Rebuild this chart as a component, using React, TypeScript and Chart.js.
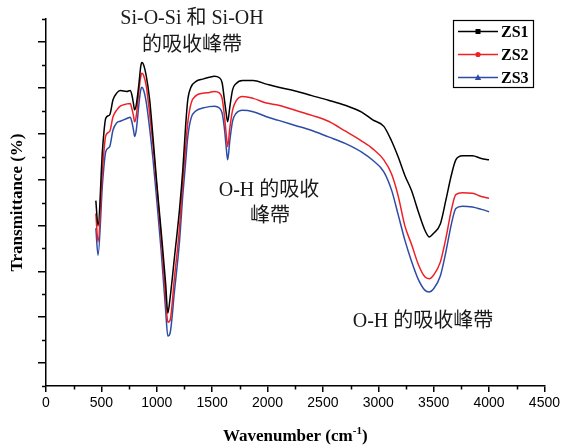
import { useEffect, useRef } from 'react';
import { Chart, registerables } from 'chart.js';

Chart.register(...registerables);

const wavenumbers = [
  450, 470, 510, 540, 575, 605, 640, 670, 730, 760, 775, 790, 800, 815, 840, 855, 865, 880, 905, 935,
  965, 1000, 1040, 1080, 1100, 1120, 1160, 1205, 1235, 1260, 1280, 1310, 1355, 1415, 1475, 1520, 1565,
  1590, 1610, 1625, 1640, 1660, 1685, 1715, 1775, 1870, 1990, 2100, 2250, 2400, 2550, 2700, 2850, 2950,
  3050, 3120, 3180, 3240, 3300, 3360, 3420, 3460, 3500, 3560, 3610, 3660, 3700, 3760, 3850, 3930, 4000,
];

const zs1 = [
  40.4, 34.9, 51.5, 58.4, 59.1, 62.4, 63.9, 64.4, 64.2, 64.4, 63.5, 61.5, 60.2, 61.3, 66.1, 69.6, 70.5, 70.1, 67.6, 62.6,
  54.5, 44.3, 33.6, 22.4, 15.9, 19.1, 28.1, 38.4, 47.1, 56.5, 62.4, 65.2, 66.4, 66.9, 67.3, 67.5, 67.2,
  66.1, 62.6, 59.8, 57.6, 60.9, 64.6, 65.9, 66.6, 66.6, 65.8, 65.1, 64.3, 63.3, 62.3, 61.2, 59.7, 58.0,
  56.6, 53.4, 49.9, 45.9, 42.6, 38.1, 34.0, 32.5, 33.3, 35.3, 40.5, 46.0, 49.3, 50.2, 50.2, 49.6, 49.3,
];

const zs2 = [
  37.6, 31.4, 47.1, 54.6, 55.5, 58.7, 60.2, 61.0, 61.5, 61.6, 60.5, 58.9, 57.6, 58.9, 64.6, 67.4, 68.2, 67.8, 65.4, 59.5,
  52.8, 43.4, 32.2, 19.4, 13.9, 14.3, 23.7, 34.4, 44.5, 51.9, 57.4, 61.6, 63.3, 63.8, 64.0, 64.2, 63.9,
  62.7, 59.1, 55.4, 52.2, 56.3, 60.2, 62.1, 63.1, 62.7, 61.7, 61.2, 60.1, 59.0, 57.7, 55.6, 53.4, 51.7,
  49.3, 46.2, 41.4, 34.9, 30.9, 26.6, 23.8, 23.4, 24.2, 27.0, 32.2, 38.4, 41.7, 42.1, 42.0, 41.3, 40.9,
];

const zs3 = [
  34.4, 28.5, 44.1, 51.1, 52.2, 55.8, 57.4, 57.7, 58.3, 58.6, 57.6, 55.8, 54.4, 55.8, 61.7, 64.5, 65.1, 64.6, 61.9, 56.3,
  49.7, 40.5, 29.4, 16.5, 10.9, 11.5, 20.7, 31.4, 41.6, 48.6, 54.3, 58.4, 60.0, 60.6, 60.9, 61.0, 60.6,
  59.5, 56.3, 52.6, 49.3, 53.6, 57.8, 59.4, 60.1, 59.8, 58.7, 57.9, 56.8, 55.7, 54.3, 52.9, 51.0, 49.2,
  46.7, 42.7, 37.3, 31.8, 27.2, 23.3, 20.9, 20.5, 21.2, 24.0, 29.2, 35.3, 38.7, 39.2, 39.0, 38.5, 38.0,
];

const seriesLabels = ['ZS1', 'ZS2', 'ZS3'];
const seriesColors = ['#000000', '#ee2026', '#2d4ca6'];
const seriesMarkers = ['rect', 'circle', 'triangle'];

const xMin = 0;
const xMax = 4500;
const xStep = 250;
const yMin = 0;
const yMax = 80;
const yStep = 5;

const xTitle = 'Wavenumber (cm';
const xTitleSup = '-1';
const yTitle = 'Transmittance (%)';

const annotations = [
  { text: 'Si-O-Si 和 Si-OH', x: 192, y: 19 },
  { text: '的吸收峰帶', x: 192, y: 46 },
  { text: 'O-H 的吸收', x: 269, y: 191 },
  { text: '峰帶', x: 270, y: 217 },
  { text: 'O-H 的吸收峰帶', x: 423, y: 322 },
];

const SERIF = "'Liberation Serif', 'Times New Roman', serif";
const ANNO_FONT = "20px 'Liberation Serif', 'Noto Sans CJK TC', serif";

const isXMajor = (v: number) => v % 500 === 0;
const isYMajor = (v: number) => Math.round(v / yStep) % 2 === 1;

const extrasPlugin = {
  id: 'extras',
  afterDraw(chart: any) {
    const ctx = chart.ctx as CanvasRenderingContext2D;
    const xs = chart.scales.x;
    const ys = chart.scales.y;
    const area = chart.chartArea;
    ctx.save();
    // minor ticks
    ctx.strokeStyle = '#000';
    ctx.lineWidth = 1.5;
    ctx.beginPath();
    for (let v = xMin; v <= xMax; v += xStep) {
      if (isXMajor(v)) continue;
      const px = Math.round(xs.getPixelForValue(v)) + 0.5;
      ctx.moveTo(px, area.bottom);
      ctx.lineTo(px, area.bottom + 3.5);
    }
    for (let v = yMin; v <= yMax; v += yStep) {
      if (isYMajor(v)) continue;
      const py = Math.round(ys.getPixelForValue(v)) + 0.5;
      ctx.moveTo(area.left - 4, py);
      ctx.lineTo(area.left, py);
    }
    ctx.stroke();

    // x title with superscript
    ctx.fillStyle = '#000';
    ctx.textBaseline = 'alphabetic';
    const mainFont = `bold 17px ${SERIF}`;
    const supFont = `bold 11px ${SERIF}`;
    ctx.font = mainFont;
    const w1 = ctx.measureText(xTitle).width;
    const w3 = ctx.measureText(')').width;
    ctx.font = supFont;
    const w2 = ctx.measureText(xTitleSup).width;
    const total = w1 + w2 + w3;
    const cx = (area.left + area.right) / 2;
    let x0 = cx - total / 2;
    const base = 441;
    ctx.font = mainFont;
    ctx.textAlign = 'left';
    ctx.fillText(xTitle, x0, base);
    ctx.font = supFont;
    ctx.fillText(xTitleSup, x0 + w1, base - 7);
    ctx.font = mainFont;
    ctx.fillText(')', x0 + w1 + w2, base);

    // annotations
    ctx.font = ANNO_FONT;
    ctx.fillStyle = '#1a1a1a';
    ctx.textAlign = 'center';
    ctx.textBaseline = 'middle';
    for (const a of annotations) ctx.fillText(a.text, a.x, a.y);

    // legend
    const bx = 453, by = 20, bw = 80, bh = 67;
    ctx.lineWidth = 1.2;
    ctx.strokeStyle = '#000';
    ctx.strokeRect(bx + 0.5, by + 0.5, bw, bh);
    chart.data.datasets.forEach((ds: any, i: number) => {
      const ry = by + 11.5 + i * 23;
      ctx.strokeStyle = ds.borderColor;
      ctx.fillStyle = ds.borderColor;
      ctx.lineWidth = 1.5;
      ctx.beginPath();
      ctx.moveTo(bx + 5, ry);
      ctx.lineTo(bx + 45, ry);
      ctx.stroke();
      const mx = bx + 25;
      const m = seriesMarkers[i];
      ctx.beginPath();
      if (m === 'rect') ctx.rect(mx - 2.5, ry - 2.5, 5, 5);
      else if (m === 'circle') ctx.arc(mx, ry, 2.6, 0, Math.PI * 2);
      else {
        ctx.moveTo(mx, ry - 3.2);
        ctx.lineTo(mx + 3.2, ry + 2.4);
        ctx.lineTo(mx - 3.2, ry + 2.4);
        ctx.closePath();
      }
      ctx.fill();
      ctx.fillStyle = '#000';
      ctx.font = `bold 16px ${SERIF}`;
      ctx.textAlign = 'left';
      ctx.textBaseline = 'middle';
      ctx.fillText(ds.label, bx + 48, ry + 1);
    });
    ctx.restore();
  },
};

export default function App() {
  const ref = useRef<HTMLCanvasElement>(null);
  useEffect(() => {
    if (!ref.current) return;
    const all = [zs1, zs2, zs3];
    const chart = new Chart(ref.current, {
      type: 'line',
      data: {
        datasets: all.map((vals, i) => ({
          label: seriesLabels[i],
          data: wavenumbers.map((w, j) => ({ x: w, y: vals[j] })),
          borderColor: seriesColors[i],
          backgroundColor: seriesColors[i],
          borderWidth: 1.5,
          pointRadius: 0,
          cubicInterpolationMode: 'monotone' as const,
          fill: false,
        })),
      },
      options: {
        animation: false,
        responsive: false,
        maintainAspectRatio: false,
        layout: { padding: { top: 19, right: 17, left: 0, bottom: 0 } },
        plugins: { legend: { display: false }, tooltip: { enabled: false } },
        scales: {
          x: {
            type: 'linear',
            min: xMin,
            max: xMax,
            afterFit: (s: any) => { s.height = 62; },
            border: { display: true, color: '#000', width: 1.5 },
            grid: {
              drawOnChartArea: false,
              drawTicks: true,
              tickLength: 6,
              lineWidth: 1.5,
              tickColor: (c: any) => (c.tick && isXMajor(c.tick.value) ? '#000' : 'rgba(0,0,0,0)'),
            },
            ticks: {
              stepSize: xStep,
              autoSkip: false,
              maxRotation: 0,
              padding: 3,
              color: '#000',
              font: { family: "'Liberation Sans', Arial, sans-serif", size: 14 },
              callback: (v: any) => (isXMajor(Number(v)) ? String(v) : ''),
            },
          },
          y: {
            type: 'linear',
            min: yMin,
            max: yMax,
            afterFit: (s: any) => { s.width = 46; },
            border: { display: true, color: '#000', width: 1.5 },
            grid: {
              drawOnChartArea: false,
              drawTicks: true,
              tickLength: 8,
              lineWidth: 1.5,
              tickColor: (c: any) => (c.tick && isYMajor(c.tick.value) ? '#000' : 'rgba(0,0,0,0)'),
            },
            ticks: { stepSize: yStep, display: false },
            title: {
              display: true,
              text: yTitle,
              color: '#000',
              font: { family: SERIF, size: 17, weight: 'bold' },
              padding: { top: 7, bottom: 0 },
            },
          },
        },
      },
      plugins: [extrasPlugin],
    });
    return () => chart.destroy();
  }, []);
  return (
    <div style={{ position: 'fixed', left: 0, top: 0, width: 563, height: 448, background: '#fff' }}>
      <canvas ref={ref} width={563} height={448} style={{ width: 563, height: 448 }} />
    </div>
  );
}
